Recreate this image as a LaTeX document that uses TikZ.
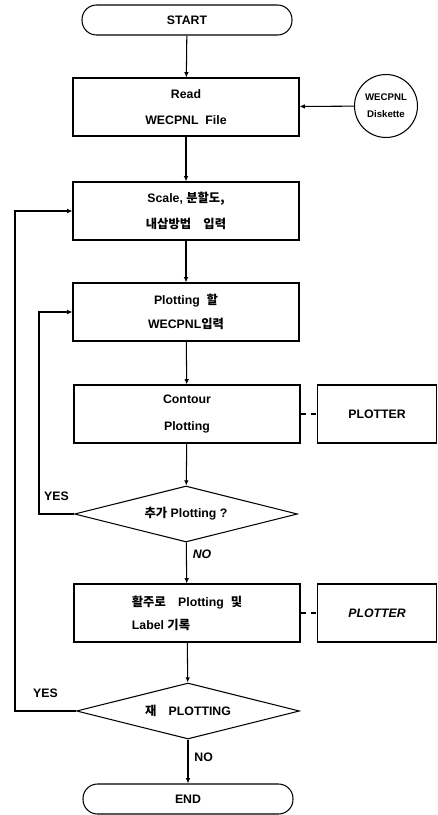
\documentclass[tikz,border=0pt]{standalone}
\usepackage{fontspec}
\setmainfont{Liberation Sans}
\newfontfamily\kr{Noto Sans CJK KR}
\usetikzlibrary{shapes.geometric, arrows.meta}

\begin{document}
\begin{tikzpicture}[x=0.02cm, y=-0.02cm, semithick, >={Latex[length=3pt, width=2.6pt]},
          font=\bfseries\fontsize{7}{8}\selectfont,
          box/.style={draw, align=center, minimum width=4.52cm, minimum height=1.16cm, inner sep=0pt},
          term/.style={draw, rounded corners=0.29cm, minimum width=4.2cm, minimum height=0.6cm},
          dec/.style={draw, diamond, aspect=4, inner sep=0pt, minimum width=4.46cm, minimum height=1.12cm},
          dev/.style={draw, align=center, minimum width=2.38cm, minimum height=1.16cm},
          arr/.style={->}]
        \useasboundingbox (0,0) rectangle (438,815);
        % main column
        \node[term] (start) at (187,20) {START};
        \node[box] (read) at (186,107) {Read\\[7pt]WECPNL\ \ File};
        \node[draw, circle, minimum size=1.26cm, inner sep=0pt, align=center,
              font=\bfseries\fontsize{5.5}{6.5}\selectfont] (disk) at (386,106) {WECPNL\\[3pt]Diskette};
        \node[box] (scale) at (186,211) {Scale, {\kr 분할도,}\\[7pt]{\kr 내삽방법\quad 입력}};
        \node[box] (plotin) at (186,312) {Plotting\ \ {\kr 할}\\[6pt]WECPNL{\kr 입력}};
        \node[box] (contour) at (187,414) {Contour\\[7pt]Plotting};
        \node[dev] (plt1) at (377,414) {PLOTTER};
        \node[dec] (more) at (186,514) {{\kr 추가} Plotting ?};
        \node[box, align=left] (runway) at (187,613) {{\kr 활주로}\quad Plotting\ \ {\kr 및}\\[5pt]Label {\kr 기록}};
        \node[dev, font=\bfseries\itshape\fontsize{7}{8}\selectfont] (plt2) at (377,613) {PLOTTER};
        \node[dec] (again) at (188,711) {{\kr 재}\quad PLOTTING};
        \node[term] (end) at (188,799) {END};
        % flow
        \draw[arr] (start) -- (read);
        \draw[arr] (disk) -- (read);
        \draw[arr] (read) -- (scale);
        \draw[arr] (scale) -- (plotin);
        \draw[arr] (plotin) -- (contour);
        \draw[arr] (contour) -- (more);
        \draw[dashed] (contour) -- (plt1);
        \draw[arr] (more) -- node[right, pos=0.3, font=\bfseries\itshape\fontsize{7}{8}\selectfont] {NO} (runway);
        \draw[dashed] (runway) -- (plt2);
        \draw[arr] (runway) -- (again);
        \draw[arr] (again) -- node[right, pos=0.4] {NO} (end);
        % loops back
        \draw[arr] (more.west) -- node[above=4pt] {YES} ++(-35,0) |- (plotin.west);
        \draw[arr] (again.west) -- node[above=4pt] {YES} ++(-61,0) |- (scale.west);
      \end{tikzpicture}
\end{document}
